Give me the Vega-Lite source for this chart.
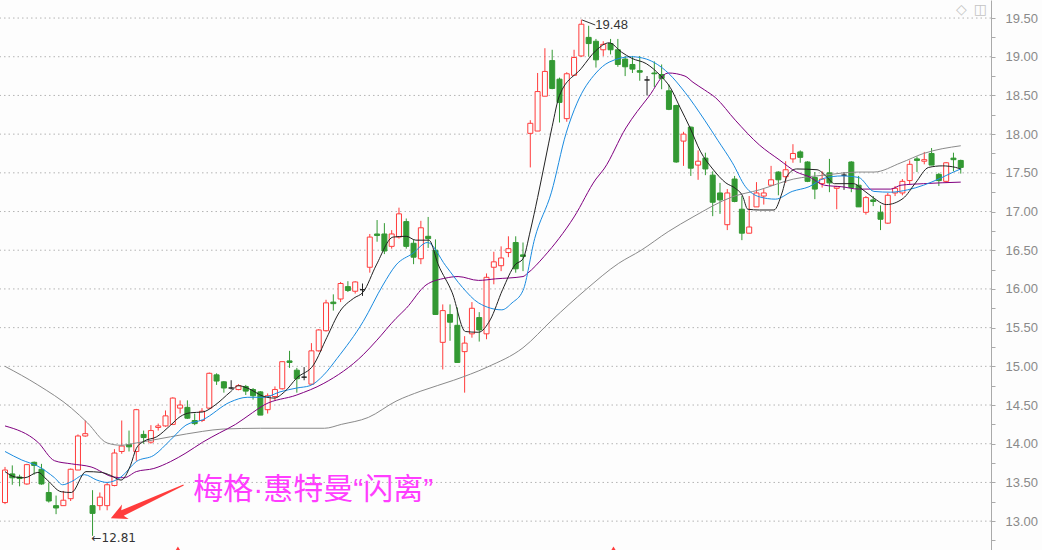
{
"$schema": "https://vega.github.io/schema/vega-lite/v6.json",
"width": 991, "height": 550,
"autosize": {"type": "none"},
"padding": {"left": 0, "top": 0, "right": 51, "bottom": 0},
"background": "#fdfdfd",
"config": {"view": {"stroke": null}},
"datasets": {
"k": [
{"i":0,"o":13.24,"h":13.70,"l":13.22,"c":13.66},
{"i":1,"o":13.61,"h":13.72,"l":13.47,"c":13.56},
{"i":2,"o":13.57,"h":13.60,"l":13.45,"c":13.55},
{"i":3,"o":13.48,"h":13.74,"l":13.47,"c":13.73},
{"i":4,"o":13.76,"h":13.77,"l":13.60,"c":13.72},
{"i":5,"o":13.67,"h":13.74,"l":13.47,"c":13.48},
{"i":6,"o":13.37,"h":13.50,"l":13.24,"c":13.26},
{"i":7,"o":13.20,"h":13.33,"l":13.09,"c":13.17},
{"i":8,"o":13.20,"h":13.39,"l":13.20,"c":13.27},
{"i":9,"o":13.29,"h":13.68,"l":13.26,"c":13.67},
{"i":10,"o":13.66,"h":14.12,"l":13.66,"c":14.10},
{"i":11,"o":14.10,"h":14.30,"l":14.09,"c":14.13},
{"i":12,"o":13.20,"h":13.40,"l":12.81,"c":13.10},
{"i":13,"o":13.20,"h":13.37,"l":13.14,"c":13.31},
{"i":14,"o":13.20,"h":13.50,"l":13.14,"c":13.47},
{"i":15,"o":13.46,"h":13.93,"l":13.45,"c":13.88},
{"i":16,"o":13.90,"h":14.30,"l":13.87,"c":13.97},
{"i":17,"o":13.99,"h":14.17,"l":13.90,"c":13.96},
{"i":18,"o":13.90,"h":14.45,"l":13.78,"c":14.44},
{"i":19,"o":14.12,"h":14.17,"l":14.00,"c":14.08},
{"i":20,"o":14.02,"h":14.24,"l":14.00,"c":14.17},
{"i":21,"o":14.21,"h":14.26,"l":14.17,"c":14.23},
{"i":22,"o":14.23,"h":14.43,"l":14.22,"c":14.36},
{"i":23,"o":14.25,"h":14.60,"l":14.24,"c":14.59},
{"i":24,"o":14.46,"h":14.56,"l":14.39,"c":14.50},
{"i":25,"o":14.47,"h":14.56,"l":14.32,"c":14.33},
{"i":26,"o":14.30,"h":14.39,"l":14.24,"c":14.26},
{"i":27,"o":14.30,"h":14.46,"l":14.28,"c":14.42},
{"i":28,"o":14.46,"h":14.92,"l":14.45,"c":14.91},
{"i":29,"o":14.89,"h":14.91,"l":14.76,"c":14.81},
{"i":30,"o":14.80,"h":14.81,"l":14.66,"c":14.72},
{"i":31,"o":14.72,"h":14.82,"l":14.70,"c":14.72},
{"i":32,"o":14.70,"h":14.77,"l":14.69,"c":14.75},
{"i":33,"o":14.74,"h":14.76,"l":14.63,"c":14.68},
{"i":34,"o":14.70,"h":14.72,"l":14.57,"c":14.62},
{"i":35,"o":14.67,"h":14.68,"l":14.37,"c":14.37},
{"i":36,"o":14.44,"h":14.65,"l":14.39,"c":14.62},
{"i":37,"o":14.61,"h":14.74,"l":14.56,"c":14.70},
{"i":38,"o":14.71,"h":15.06,"l":14.70,"c":15.06},
{"i":39,"o":15.07,"h":15.20,"l":14.98,"c":15.05},
{"i":40,"o":14.95,"h":14.98,"l":14.66,"c":14.84},
{"i":41,"o":14.86,"h":14.99,"l":14.82,"c":14.86},
{"i":42,"o":14.77,"h":15.30,"l":14.76,"c":15.20},
{"i":43,"o":15.20,"h":15.48,"l":15.19,"c":15.47},
{"i":44,"o":15.46,"h":15.86,"l":15.45,"c":15.82},
{"i":45,"o":15.83,"h":15.93,"l":15.72,"c":15.81},
{"i":46,"o":15.87,"h":16.09,"l":15.83,"c":16.07},
{"i":47,"o":16.03,"h":16.10,"l":15.96,"c":15.98},
{"i":48,"o":15.97,"h":16.10,"l":15.94,"c":16.09},
{"i":49,"o":15.99,"h":16.07,"l":15.91,"c":15.99},
{"i":50,"o":16.28,"h":16.71,"l":16.21,"c":16.67},
{"i":51,"o":16.71,"h":16.89,"l":16.61,"c":16.69},
{"i":52,"o":16.71,"h":16.85,"l":16.45,"c":16.49},
{"i":53,"o":16.55,"h":16.76,"l":16.52,"c":16.71},
{"i":54,"o":16.67,"h":17.05,"l":16.65,"c":16.97},
{"i":55,"o":16.87,"h":16.91,"l":16.52,"c":16.55},
{"i":56,"o":16.59,"h":16.64,"l":16.32,"c":16.41},
{"i":57,"o":16.39,"h":16.88,"l":16.32,"c":16.79},
{"i":58,"o":16.68,"h":16.93,"l":16.53,"c":16.65},
{"i":59,"o":16.50,"h":16.64,"l":15.67,"c":15.67},
{"i":60,"o":15.31,"h":15.80,"l":14.96,"c":15.72},
{"i":61,"o":15.67,"h":15.80,"l":15.33,"c":15.57},
{"i":62,"o":15.53,"h":15.76,"l":15.05,"c":15.05},
{"i":63,"o":15.19,"h":15.39,"l":14.66,"c":15.30},
{"i":64,"o":15.42,"h":15.83,"l":15.37,"c":15.75},
{"i":65,"o":15.63,"h":15.70,"l":15.32,"c":15.47},
{"i":66,"o":15.42,"h":16.20,"l":15.35,"c":16.15},
{"i":67,"o":16.28,"h":16.48,"l":16.06,"c":16.35},
{"i":68,"o":16.30,"h":16.55,"l":16.23,"c":16.40},
{"i":69,"o":16.47,"h":16.68,"l":16.41,"c":16.52},
{"i":70,"o":16.60,"h":16.68,"l":16.21,"c":16.26},
{"i":71,"o":16.44,"h":16.60,"l":16.23,"c":16.42},
{"i":72,"o":18.01,"h":18.18,"l":17.57,"c":18.14},
{"i":73,"o":18.04,"h":18.79,"l":18.04,"c":18.55},
{"i":74,"o":18.49,"h":19.11,"l":18.49,"c":18.81},
{"i":75,"o":18.95,"h":19.09,"l":18.58,"c":18.59},
{"i":76,"o":18.71,"h":18.73,"l":18.15,"c":18.41},
{"i":77,"o":18.20,"h":18.80,"l":18.16,"c":18.78},
{"i":78,"o":18.76,"h":19.09,"l":18.76,"c":18.99},
{"i":79,"o":19.01,"h":19.48,"l":19.00,"c":19.42},
{"i":80,"o":19.25,"h":19.40,"l":19.00,"c":19.17},
{"i":81,"o":19.20,"h":19.23,"l":18.86,"c":18.96},
{"i":82,"o":19.09,"h":19.20,"l":19.01,"c":19.16},
{"i":83,"o":19.17,"h":19.23,"l":19.03,"c":19.09},
{"i":84,"o":19.09,"h":19.23,"l":18.87,"c":18.90},
{"i":85,"o":18.97,"h":19.01,"l":18.75,"c":18.87},
{"i":86,"o":18.90,"h":19.01,"l":18.79,"c":18.84},
{"i":87,"o":18.82,"h":19.01,"l":18.69,"c":18.80},
{"i":88,"o":18.70,"h":18.75,"l":18.50,"c":18.70},
{"i":89,"o":18.79,"h":18.94,"l":18.61,"c":18.78},
{"i":90,"o":18.77,"h":18.90,"l":18.58,"c":18.72},
{"i":91,"o":18.56,"h":18.64,"l":18.31,"c":18.32},
{"i":92,"o":18.37,"h":18.38,"l":17.63,"c":17.64},
{"i":93,"o":17.91,"h":18.03,"l":17.59,"c":18.00},
{"i":94,"o":18.09,"h":18.10,"l":17.46,"c":17.56},
{"i":95,"o":17.60,"h":17.79,"l":17.41,"c":17.65},
{"i":96,"o":17.69,"h":17.76,"l":17.47,"c":17.55},
{"i":97,"o":17.47,"h":17.52,"l":16.94,"c":17.12},
{"i":98,"o":17.24,"h":17.37,"l":16.97,"c":17.15},
{"i":99,"o":16.83,"h":17.29,"l":16.76,"c":17.24},
{"i":100,"o":17.42,"h":17.46,"l":17.12,"c":17.13},
{"i":101,"o":17.03,"h":17.20,"l":16.63,"c":16.72},
{"i":102,"o":16.72,"h":17.20,"l":16.72,"c":16.80},
{"i":103,"o":17.06,"h":17.38,"l":17.06,"c":17.24},
{"i":104,"o":17.20,"h":17.29,"l":17.09,"c":17.24},
{"i":105,"o":17.34,"h":17.59,"l":17.33,"c":17.41},
{"i":106,"o":17.51,"h":17.52,"l":17.21,"c":17.41},
{"i":107,"o":17.45,"h":17.65,"l":17.37,"c":17.54},
{"i":108,"o":17.68,"h":17.87,"l":17.63,"c":17.75},
{"i":109,"o":17.77,"h":17.79,"l":17.63,"c":17.70},
{"i":110,"o":17.64,"h":17.65,"l":17.38,"c":17.39},
{"i":111,"o":17.44,"h":17.51,"l":17.16,"c":17.29},
{"i":112,"o":17.36,"h":17.52,"l":17.31,"c":17.42},
{"i":113,"o":17.50,"h":17.68,"l":17.25,"c":17.37},
{"i":114,"o":17.30,"h":17.33,"l":17.03,"c":17.32},
{"i":115,"o":17.47,"h":17.51,"l":17.28,"c":17.47},
{"i":116,"o":17.64,"h":17.65,"l":17.25,"c":17.31},
{"i":117,"o":17.34,"h":17.46,"l":17.06,"c":17.06},
{"i":118,"o":16.99,"h":17.20,"l":16.96,"c":17.18},
{"i":119,"o":17.15,"h":17.20,"l":17.07,"c":17.13},
{"i":120,"o":16.99,"h":17.08,"l":16.76,"c":16.90},
{"i":121,"o":16.85,"h":17.24,"l":16.84,"c":17.21},
{"i":122,"o":17.24,"h":17.33,"l":17.20,"c":17.30},
{"i":123,"o":17.24,"h":17.42,"l":17.21,"c":17.39},
{"i":124,"o":17.40,"h":17.66,"l":17.35,"c":17.61},
{"i":125,"o":17.68,"h":17.71,"l":17.51,"c":17.66},
{"i":126,"o":17.65,"h":17.77,"l":17.61,"c":17.67},
{"i":127,"o":17.75,"h":17.82,"l":17.60,"c":17.60},
{"i":128,"o":17.48,"h":17.50,"l":17.33,"c":17.40},
{"i":129,"o":17.39,"h":17.64,"l":17.37,"c":17.63},
{"i":130,"o":17.69,"h":17.76,"l":17.52,"c":17.67},
{"i":131,"o":17.66,"h":17.67,"l":17.49,"c":17.57}
],
"ma": [
{"s":"MA60","i":0,"v":15.0},{"s":"MA60","i":4.5,"v":14.76},{"s":"MA60","i":9.1,"v":14.46},{"s":"MA60","i":11.3,"v":14.27},{"s":"MA60","i":14.0,"v":14.01},{"s":"MA60","i":15.9,"v":13.98},{"s":"MA60","i":18.0,"v":14.01},{"s":"MA60","i":22.7,"v":14.09},{"s":"MA60","i":27.1,"v":14.16},{"s":"MA60","i":29.9,"v":14.19},{"s":"MA60","i":35.0,"v":14.2},{"s":"MA60","i":43.8,"v":14.2},{"s":"MA60","i":46.1,"v":14.25},{"s":"MA60","i":49.8,"v":14.34},{"s":"MA60","i":53.6,"v":14.55},{"s":"MA60","i":57.0,"v":14.68},{"s":"MA60","i":61.5,"v":14.82},{"s":"MA60","i":66.1,"v":14.99},{"s":"MA60","i":71.0,"v":15.24},{"s":"MA60","i":75.0,"v":15.6},{"s":"MA60","i":79.6,"v":15.99},{"s":"MA60","i":84.1,"v":16.33},{"s":"MA60","i":87.2,"v":16.5},{"s":"MA60","i":90.9,"v":16.74},{"s":"MA60","i":94.3,"v":16.93},{"s":"MA60","i":99.7,"v":17.19},{"s":"MA60","i":103.4,"v":17.28},{"s":"MA60","i":108.1,"v":17.42},{"s":"MA60","i":112.3,"v":17.47},{"s":"MA60","i":117.0,"v":17.51},{"s":"MA60","i":119.1,"v":17.51},{"s":"MA60","i":122.8,"v":17.63},{"s":"MA60","i":125.9,"v":17.75},{"s":"MA60","i":131,"v":17.85},
{"s":"MA20","i":0,"v":14.23},{"s":"MA20","i":4.5,"v":14.02},{"s":"MA20","i":6.8,"v":13.78},{"s":"MA20","i":9.1,"v":13.74},{"s":"MA20","i":11.8,"v":13.7},{"s":"MA20","i":14.9,"v":13.57},{"s":"MA20","i":16.3,"v":13.56},{"s":"MA20","i":18.0,"v":13.64},{"s":"MA20","i":20.4,"v":13.68},{"s":"MA20","i":22.7,"v":13.77},{"s":"MA20","i":24.8,"v":13.88},{"s":"MA20","i":27.1,"v":14.02},{"s":"MA20","i":29.4,"v":14.14},{"s":"MA20","i":31.6,"v":14.25},{"s":"MA20","i":33.9,"v":14.4},{"s":"MA20","i":35.5,"v":14.5},{"s":"MA20","i":40.0,"v":14.63},{"s":"MA20","i":43.7,"v":14.78},{"s":"MA20","i":49.1,"v":15.15},{"s":"MA20","i":50.9,"v":15.33},{"s":"MA20","i":53.6,"v":15.62},{"s":"MA20","i":55.0,"v":15.75},{"s":"MA20","i":57.7,"v":16.05},{"s":"MA20","i":60.4,"v":16.14},{"s":"MA20","i":62.1,"v":16.16},{"s":"MA20","i":64.9,"v":16.11},{"s":"MA20","i":67.2,"v":16.13},{"s":"MA20","i":71.0,"v":16.16},{"s":"MA20","i":71.6,"v":16.2},{"s":"MA20","i":73.9,"v":16.42},{"s":"MA20","i":78.0,"v":16.93},{"s":"MA20","i":81.0,"v":17.42},{"s":"MA20","i":82.1,"v":17.55},{"s":"MA20","i":85.1,"v":18.08},{"s":"MA20","i":88.2,"v":18.48},{"s":"MA20","i":90.9,"v":18.79},{"s":"MA20","i":93.2,"v":18.75},{"s":"MA20","i":94.3,"v":18.67},{"s":"MA20","i":95.9,"v":18.57},{"s":"MA20","i":97.4,"v":18.47},{"s":"MA20","i":100.1,"v":18.18},{"s":"MA20","i":103.4,"v":17.86},{"s":"MA20","i":106.1,"v":17.67},{"s":"MA20","i":108.5,"v":17.51},{"s":"MA20","i":110.2,"v":17.45},{"s":"MA20","i":112.3,"v":17.34},{"s":"MA20","i":114.7,"v":17.32},{"s":"MA20","i":117.0,"v":17.29},{"s":"MA20","i":121.4,"v":17.29},{"s":"MA20","i":122.8,"v":17.34},{"s":"MA20","i":125.9,"v":17.36},{"s":"MA20","i":131,"v":17.38},
{"s":"MA10","i":0,"v":13.9},{"s":"MA10","i":2.3,"v":13.79},{"s":"MA10","i":4.5,"v":13.71},{"s":"MA10","i":6.8,"v":13.56},{"s":"MA10","i":7.9,"v":13.47},{"s":"MA10","i":9.1,"v":13.51},{"s":"MA10","i":10.9,"v":13.6},{"s":"MA10","i":12.6,"v":13.53},{"s":"MA10","i":14.0,"v":13.5},{"s":"MA10","i":15.9,"v":13.57},{"s":"MA10","i":18.0,"v":13.77},{"s":"MA10","i":20.4,"v":13.85},{"s":"MA10","i":22.7,"v":14.05},{"s":"MA10","i":24.8,"v":14.24},{"s":"MA10","i":27.1,"v":14.31},{"s":"MA10","i":30.9,"v":14.54},{"s":"MA10","i":33.2,"v":14.6},{"s":"MA10","i":35.5,"v":14.6},{"s":"MA10","i":37.7,"v":14.67},{"s":"MA10","i":40.0,"v":14.72},{"s":"MA10","i":41.8,"v":14.75},{"s":"MA10","i":43.7,"v":14.89},{"s":"MA10","i":45.5,"v":15.1},{"s":"MA10","i":49.1,"v":15.58},{"s":"MA10","i":51.8,"v":16.05},{"s":"MA10","i":53.6,"v":16.31},{"s":"MA10","i":55.9,"v":16.46},{"s":"MA10","i":57.9,"v":16.6},{"s":"MA10","i":60.4,"v":16.3},{"s":"MA10","i":62.7,"v":16.02},{"s":"MA10","i":64.9,"v":15.82},{"s":"MA10","i":68.1,"v":15.73},{"s":"MA10","i":69.5,"v":15.82},{"s":"MA10","i":71.0,"v":15.98},{"s":"MA10","i":72.6,"v":16.65},{"s":"MA10","i":74.9,"v":17.25},{"s":"MA10","i":76.9,"v":18.01},{"s":"MA10","i":78.4,"v":18.4},{"s":"MA10","i":81.0,"v":18.79},{"s":"MA10","i":82.8,"v":18.93},{"s":"MA10","i":85.9,"v":19.0},{"s":"MA10","i":87.9,"v":18.97},{"s":"MA10","i":90.9,"v":18.79},{"s":"MA10","i":93.2,"v":18.54},{"s":"MA10","i":95.9,"v":18.18},{"s":"MA10","i":97.7,"v":17.92},{"s":"MA10","i":99.7,"v":17.63},{"s":"MA10","i":101.5,"v":17.32},{"s":"MA10","i":103.4,"v":17.19},{"s":"MA10","i":105.6,"v":17.16},{"s":"MA10","i":107.9,"v":17.26},{"s":"MA10","i":110.2,"v":17.32},{"s":"MA10","i":112.3,"v":17.43},{"s":"MA10","i":114.7,"v":17.46},{"s":"MA10","i":117.0,"v":17.44},{"s":"MA10","i":119.1,"v":17.26},{"s":"MA10","i":121.4,"v":17.25},{"s":"MA10","i":123.7,"v":17.28},{"s":"MA10","i":125.9,"v":17.34},{"s":"MA10","i":128.2,"v":17.43},{"s":"MA10","i":130.0,"v":17.51},{"s":"MA10","i":131,"v":17.55},
{"s":"MA5","i":0,"v":13.64},{"s":"MA5","i":1.4,"v":13.57},{"s":"MA5","i":2.7,"v":13.56},{"s":"MA5","i":4.5,"v":13.63},{"s":"MA5","i":5.8,"v":13.53},{"s":"MA5","i":7.7,"v":13.38},{"s":"MA5","i":9.1,"v":13.37},{"s":"MA5","i":11.1,"v":13.64},{"s":"MA5","i":13.2,"v":13.63},{"s":"MA5","i":14.5,"v":13.59},{"s":"MA5","i":15.9,"v":13.53},{"s":"MA5","i":17.2,"v":13.72},{"s":"MA5","i":18.0,"v":13.94},{"s":"MA5","i":19.0,"v":14.03},{"s":"MA5","i":20.8,"v":14.09},{"s":"MA5","i":22.7,"v":14.24},{"s":"MA5","i":24.0,"v":14.35},{"s":"MA5","i":25.4,"v":14.4},{"s":"MA5","i":27.1,"v":14.41},{"s":"MA5","i":28.8,"v":14.5},{"s":"MA5","i":30.9,"v":14.67},{"s":"MA5","i":32.0,"v":14.75},{"s":"MA5","i":33.2,"v":14.72},{"s":"MA5","i":35.5,"v":14.61},{"s":"MA5","i":36.9,"v":14.59},{"s":"MA5","i":38.3,"v":14.67},{"s":"MA5","i":40.0,"v":14.85},{"s":"MA5","i":42.3,"v":15.02},{"s":"MA5","i":44.1,"v":15.37},{"s":"MA5","i":45.9,"v":15.71},{"s":"MA5","i":47.8,"v":15.88},{"s":"MA5","i":49.1,"v":15.96},{"s":"MA5","i":50.9,"v":16.31},{"s":"MA5","i":53.2,"v":16.67},{"s":"MA5","i":55.0,"v":16.68},{"s":"MA5","i":56.3,"v":16.63},{"s":"MA5","i":58.1,"v":16.63},{"s":"MA5","i":59.4,"v":16.31},{"s":"MA5","i":61.3,"v":15.95},{"s":"MA5","i":63.1,"v":15.45},{"s":"MA5","i":64.9,"v":15.44},{"s":"MA5","i":66.5,"v":15.6},{"s":"MA5","i":68.2,"v":15.99},{"s":"MA5","i":69.9,"v":16.31},{"s":"MA5","i":71.0,"v":16.39},{"s":"MA5","i":72.0,"v":16.75},{"s":"MA5","i":73.0,"v":17.18},{"s":"MA5","i":74.0,"v":17.64},{"s":"MA5","i":75.0,"v":18.1},{"s":"MA5","i":76.0,"v":18.5},{"s":"MA5","i":79.0,"v":18.85},{"s":"MA5","i":81.0,"v":19.08},{"s":"MA5","i":82.8,"v":19.18},{"s":"MA5","i":84.5,"v":19.06},{"s":"MA5","i":85.9,"v":18.98},{"s":"MA5","i":87.9,"v":18.91},{"s":"MA5","i":89.8,"v":18.76},{"s":"MA5","i":91.2,"v":18.6},{"s":"MA5","i":92.5,"v":18.35},{"s":"MA5","i":93.9,"v":18.08},{"s":"MA5","i":95.3,"v":17.78},{"s":"MA5","i":97.0,"v":17.55},{"s":"MA5","i":98.8,"v":17.37},{"s":"MA5","i":100.1,"v":17.3},{"s":"MA5","i":101.1,"v":17.2},{"s":"MA5","i":101.8,"v":17.03},{"s":"MA5","i":103.4,"v":17.02},{"s":"MA5","i":105.4,"v":17.02},{"s":"MA5","i":106.5,"v":17.24},{"s":"MA5","i":107.2,"v":17.46},{"s":"MA5","i":108.5,"v":17.55},{"s":"MA5","i":111.3,"v":17.54},{"s":"MA5","i":112.6,"v":17.45},{"s":"MA5","i":113.7,"v":17.36},{"s":"MA5","i":116.3,"v":17.36},{"s":"MA5","i":117.6,"v":17.28},{"s":"MA5","i":119.0,"v":17.18},{"s":"MA5","i":120.8,"v":17.09},{"s":"MA5","i":123.1,"v":17.17},{"s":"MA5","i":124.8,"v":17.37},{"s":"MA5","i":126.6,"v":17.57},{"s":"MA5","i":128.5,"v":17.59},{"s":"MA5","i":130.3,"v":17.57},{"s":"MA5","i":131,"v":17.55}
]
},
"encoding": {
"x": {"type": "quantitative", "scale": {"domain": [0, 134.46], "nice": false, "zero": false}, "axis": null},
"y": {"type": "quantitative", "scale": {"domain": [12.627, 19.733], "nice": false, "zero": false},
"axis": {"orient": "right", "title": null,
"values": [12.75,13,13.25,13.5,13.75,14,14.25,14.5,14.75,15,15.25,15.5,15.75,16,16.25,16.5,16.75,17,17.25,17.5,17.75,18,18.25,18.5,18.75,19,19.25,19.5],
"labelExpr": "(datum.value*4)%2==0 ? format(datum.value,'.2f') : ''",
"labelOverlap": false, "labelFont": "Liberation Sans", "labelFontSize": 13, "labelColor": "#8a8a8a", "labelPadding": 10,
"grid": false, "ticks": true, "tickSize": 4, "tickColor": "#aaaaaa", "domain": true, "domainColor": "#aaaaaa"}}
},
"layer": [
{
"data": {"values": [{"g":13},{"g":13.5},{"g":14},{"g":14.5},{"g":15},{"g":15.5},{"g":16},{"g":16.5},{"g":17},{"g":17.5},{"g":18},{"g":18.5},{"g":19},{"g":19.5}]},
"mark": {"type": "rule", "strokeWidth": 1, "strokeDash": [1.5, 3], "color": "#b4b4b4"},
"encoding": {"y": {"field": "g"}}
},
{
"data": {"name": "k"},
"mark": {"type": "rule", "strokeWidth": 1, "clip": true},
"encoding": {
"x": {"field": "i"},
"y": {"field": "l"},
"y2": {"field": "h"},
"color": {"condition": [{"test": "datum.c>datum.o", "value": "#ff3c3c"}, {"test": "datum.c<datum.o", "value": "#339933"}], "value": "#222222"}
}
},
{
"data": {"name": "k"},
"mark": {"type": "bar", "width": 5, "strokeWidth": 1, "clip": true},
"encoding": {
"x": {"field": "i"},
"y": {"field": "o"},
"y2": {"field": "c"},
"fill": {"condition": [{"test": "datum.c>datum.o", "value": "#fdfdfd"}, {"test": "datum.c<datum.o", "value": "#339933"}], "value": "#222222"},
"stroke": {"condition": [{"test": "datum.c>datum.o", "value": "#ff3c3c"}, {"test": "datum.c<datum.o", "value": "#339933"}], "value": "#222222"}
}
},
{
"data": {"name": "ma"},
"mark": {"type": "line", "strokeWidth": 1, "clip": true, "interpolate": "monotone"},
"encoding": {
"x": {"field": "i"},
"y": {"field": "v"},
"color": {"field": "s", "type": "nominal", "scale": {"domain": ["MA5", "MA10", "MA20", "MA60"], "range": ["#222222", "#1a8be0", "#800080", "#8a8a8a"]}, "legend": null},
"order": {"field": "i", "type": "quantitative"}
}
},
{
"data": {"values": [{"i": 79.1, "i2": 80.9, "v": 19.475, "v2": 19.41}]},
"mark": {"type": "rule", "strokeWidth": 1, "color": "#333333"},
"encoding": {
"x": {"field": "i"},
"x2": {"field": "i2"},
"y": {"field": "v"},
"y2": {"field": "v2"}
}
},
{
"data": {"values": [{"i": 79, "v": 19.48, "t": "19.48"}]},
"mark": {"type": "text", "align": "left", "baseline": "middle", "dx": 14, "dy": 5, "font": "Liberation Sans", "fontSize": 13, "color": "#333333"},
"encoding": {
"x": {"field": "i"},
"y": {"field": "v"},
"text": {"field": "t"}
}
},
{
"data": {"values": [{"i": 12, "v": 12.81, "t": "←12.81"}]},
"mark": {"type": "text", "align": "left", "baseline": "middle", "dx": -1, "dy": 2, "font": "DejaVu Sans", "fontSize": 12, "color": "#333333"},
"encoding": {
"x": {"field": "i"},
"y": {"field": "v"},
"text": {"field": "t"}
}
},
{
"data": {"values": [{"i": 19.49, "v": 13.251}]},
"mark": {"type": "point", "shape": "M-1,0 L-0.6,-0.2 L-0.68,-0.075 L1,-0.015 L1,0.015 L-0.68,0.075 L-0.6,0.2 Z", "size": 6400, "angle": 335.4, "filled": true, "color": "#ff3c3c", "opacity": 1, "strokeWidth": 0},
"encoding": {
"x": {"field": "i"},
"y": {"field": "v"}
}
},
{
"data": {"values": [{"i": 25.8, "v": 13.40, "t": "梅格·惠特曼“闪离”"}]},
"mark": {"type": "text", "align": "left", "baseline": "middle", "font": "Liberation Sans, Noto Sans CJK SC", "fontSize": 30, "color": "#ff3dff"},
"encoding": {
"x": {"field": "i"},
"y": {"field": "v"},
"text": {"field": "t"}
}
},
{
"data": {"values": [{"i": 23.7, "v": 12.64}, {"i": 83.4, "v": 12.64}]},
"mark": {"type": "point", "shape": "triangle-up", "size": 36, "filled": true, "color": "#ff3c3c", "opacity": 1, "clip": true},
"encoding": {
"x": {"field": "i"},
"y": {"field": "v"}
}
},
{
"data": {"values": [{"i": 131.1, "v": 19.6, "t": "◇"}, {"i": 133.7, "v": 19.6, "t": "◫"}]},
"mark": {"type": "text", "align": "center", "baseline": "middle", "font": "DejaVu Sans", "fontSize": 14, "color": "#c4c4c4"},
"encoding": {
"x": {"field": "i"},
"y": {"field": "v"},
"text": {"field": "t"}
}
}
]
}
